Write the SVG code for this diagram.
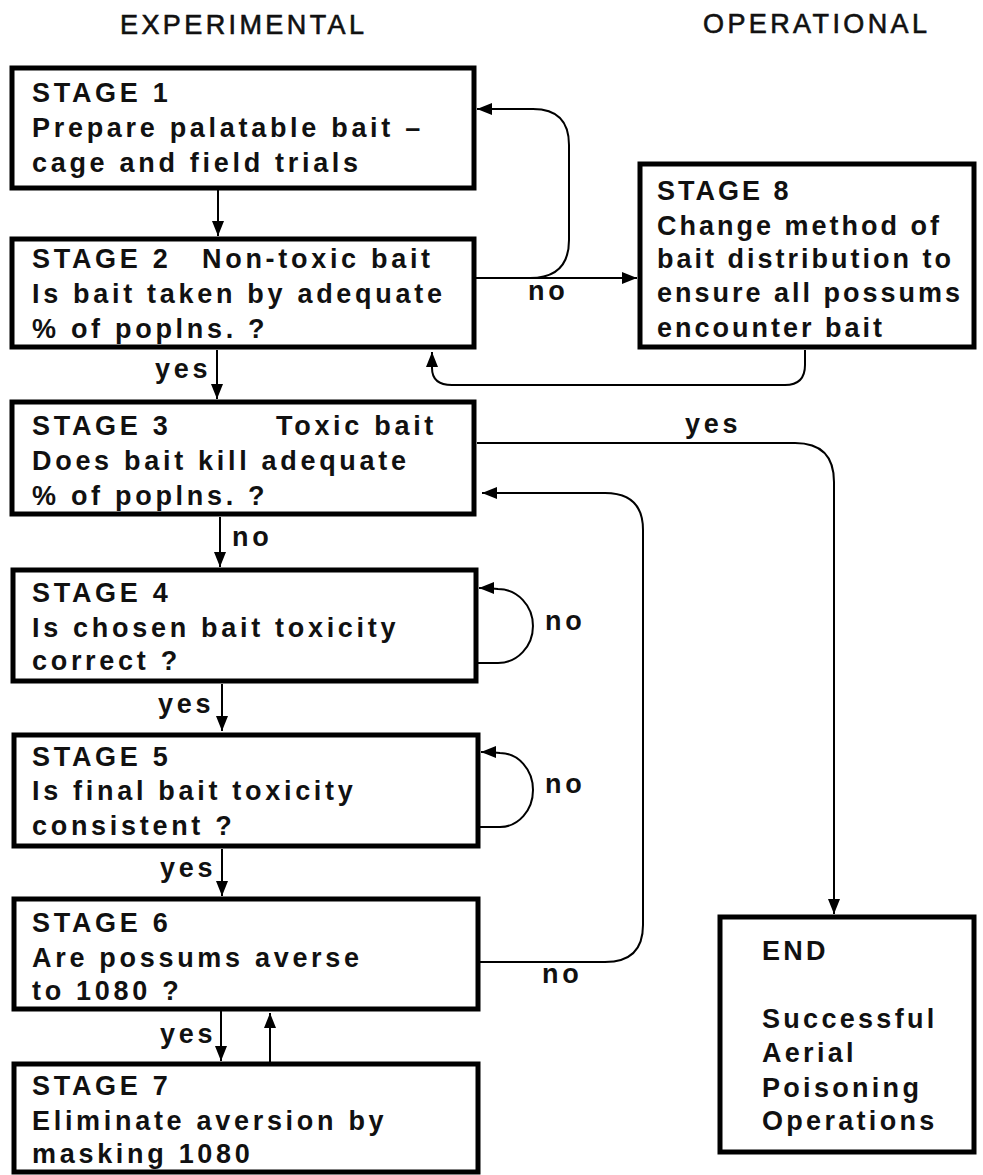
<svg xmlns="http://www.w3.org/2000/svg" width="983" height="1175" viewBox="0 0 983 1175">
<defs>
<marker id="arr" markerUnits="userSpaceOnUse" markerWidth="15" markerHeight="12" refX="15" refY="6" orient="auto">
<path d="M0,0 L15,6 L0,12 z" fill="#000"/>
</marker>
<style>
.box{fill:#fff;stroke:#000;stroke-width:5}
.t{font-family:"Liberation Sans",Arial,Helvetica,sans-serif;font-weight:bold;font-size:27px;letter-spacing:3.7px;fill:#111}
.n{letter-spacing:3px}
.e{letter-spacing:3.3px}
.h{font-family:"Liberation Sans",Arial,Helvetica,sans-serif;font-weight:normal;font-size:27px;letter-spacing:3.4px;fill:#111;stroke:#111;stroke-width:0.6}
.c{fill:none;stroke:#000;stroke-width:2}
</style>
</defs>
<rect width="983" height="1175" fill="#fff"/>
<g id="headers">
<text class="h" x="120" y="34">EXPERIMENTAL</text>
<text class="h" x="703" y="33">OPERATIONAL</text>
</g>
<g id="connectors">
<path class="c" d="M218,190 L218,236" marker-end="url(#arr)"/>
<path class="c" d="M217,350 L217,399" marker-end="url(#arr)"/>
<path class="c" d="M476,278 L637,278" marker-end="url(#arr)"/>
<path class="c" d="M530,278 Q569,278 569,240 L569,145 Q569,109 533,109 L477,109" marker-end="url(#arr)"/>
<path class="c" d="M805,350 L805,365 Q805,385 785,385 L452,385 Q432,385 432,368 L432,352" marker-end="url(#arr)"/>
<path class="c" d="M477,443 L795,443 Q834,443 834,482 L834,914" marker-end="url(#arr)"/>
<path class="c" d="M220,517 L220,567" marker-end="url(#arr)"/>
<path class="c" d="M478,663 L498,663 A35,37 0 0 0 498,589 Q490,588 479,588" marker-end="url(#arr)"/>
<path class="c" d="M222,684 L222,731" marker-end="url(#arr)"/>
<path class="c" d="M480,827 L500,827 A33,37 0 0 0 500,753 Q492,752 481,752" marker-end="url(#arr)"/>
<path class="c" d="M222,849 L222,896" marker-end="url(#arr)"/>
<path class="c" d="M480,962 L605,962 Q643,962 643,925 L643,530 Q643,493 605,493 L482,493" marker-end="url(#arr)"/>
<path class="c" d="M221,1011 L221,1061" marker-end="url(#arr)"/>
<path class="c" d="M270,1063 L270,1013" marker-end="url(#arr)"/>
<text class="t" x="528" y="300">no</text>
<text class="t" x="155" y="378">yes</text>
<text class="t" x="685" y="433">yes</text>
<text class="t" x="232" y="546">no</text>
<text class="t" x="545" y="630">no</text>
<text class="t" x="158" y="713">yes</text>
<text class="t" x="545" y="793">no</text>
<text class="t" x="160" y="877">yes</text>
<text class="t" x="542" y="983">no</text>
<text class="t" x="160" y="1043">yes</text>
</g>
<g id="stage1">
<rect class="box" x="12" y="68" width="462" height="120"/>
<text class="t" x="32" y="102">STAGE 1</text>
<text class="t" x="32" y="137">Prepare palatable bait –</text>
<text class="t" x="32" y="172">cage and field trials</text>
</g>
<g id="stage2">
<rect class="box" x="12" y="239" width="462" height="108"/>
<text class="t" x="32" y="268">STAGE 2</text>
<text class="t" x="202" y="268">Non-toxic bait</text>
<text class="t" x="32" y="303">Is bait taken by adequate</text>
<text class="t" x="32" y="338">% of poplns. ?</text>
</g>
<g id="stage3">
<rect class="box" x="12" y="402" width="462" height="112"/>
<text class="t" x="32" y="435">STAGE 3</text>
<text class="t" x="276" y="435">Toxic bait</text>
<text class="t" x="32" y="470">Does bait kill adequate</text>
<text class="t" x="32" y="505">% of poplns. ?</text>
</g>
<g id="stage4">
<rect class="box" x="13" y="570" width="463" height="111"/>
<text class="t" x="32" y="602">STAGE 4</text>
<text class="t" x="32" y="637">Is chosen bait toxicity</text>
<text class="t" x="32" y="670">correct ?</text>
</g>
<g id="stage5">
<rect class="box" x="14" y="735" width="464" height="111"/>
<text class="t" x="32" y="766">STAGE 5</text>
<text class="t" x="32" y="800">Is final bait toxicity</text>
<text class="t" x="32" y="835">consistent ?</text>
</g>
<g id="stage6">
<rect class="box" x="14" y="899" width="464" height="110"/>
<text class="t" x="32" y="932">STAGE 6</text>
<text class="t" x="32" y="967">Are possums averse</text>
<text class="t" x="32" y="1000">to 1080 ?</text>
</g>
<g id="stage7">
<rect class="box" x="14" y="1064" width="464" height="108"/>
<text class="t" x="32" y="1095">STAGE 7</text>
<text class="t" x="32" y="1130">Eliminate aversion by</text>
<text class="t" x="32" y="1163">masking 1080</text>
</g>
<g id="stage8">
<rect class="box" x="640" y="164" width="334" height="183"/>
<text class="t n" x="657" y="200">STAGE 8</text>
<text class="t n" x="657" y="235">Change method of</text>
<text class="t n" x="657" y="268">bait distribution to</text>
<text class="t n" x="657" y="302">ensure all possums</text>
<text class="t n" x="657" y="337">encounter bait</text>
</g>
<g id="end">
<rect class="box" x="720" y="917" width="254" height="235"/>
<text class="t e" x="762" y="960">END</text>
<text class="t e" x="762" y="1028">Successful</text>
<text class="t e" x="762" y="1062">Aerial</text>
<text class="t e" x="762" y="1097">Poisoning</text>
<text class="t e" x="762" y="1130">Operations</text>
</g>
</svg>
